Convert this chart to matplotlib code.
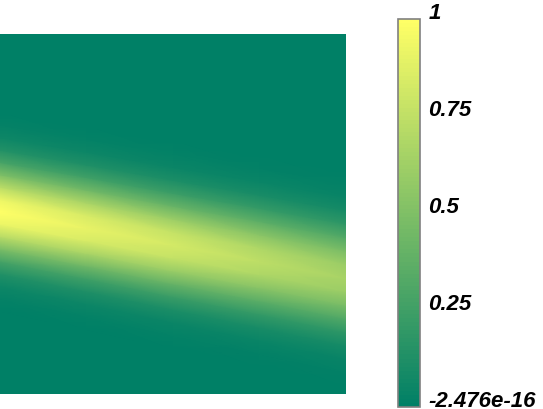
import matplotlib
matplotlib.use("Agg")
import matplotlib.pyplot as plt
import numpy as np
from matplotlib.colors import Normalize
from matplotlib.cm import ScalarMappable

# ridge of the plume (x and y as fraction of the domain, y up)
ridge_x = [0.0, 0.25, 0.5, 0.75, 1.0]
ridge_y = [0.506, 0.461, 0.414, 0.369, 0.322]
ridge_peak = [1.0, 0.91, 0.83, 0.74, 0.66]
ridge_width = [0.086, 0.088, 0.090, 0.092, 0.094]

# cross-section shape (offset in widths -> relative value)
profile_off = [-3.2, -2.8, -2.4, -2.0, -1.6, -1.2, -0.8, -0.4, 0.0,
               0.4, 0.8, 1.2, 1.6, 2.0, 2.4, 2.8, 3.2]
profile_val = [0.0, 0.02, 0.056, 0.135, 0.278, 0.487, 0.726, 0.923, 1.0,
               0.923, 0.726, 0.487, 0.278, 0.135, 0.056, 0.02, 0.0]

vmin = -2.476e-16
vmax = 1.0
cbar_ticks = [vmin, 0.25, 0.5, 0.75, 1.0]
cbar_labels = ["-2.476e-16", "0.25", "0.5", "0.75", "1"]

# mesh following the ridge, plus zero rows at the domain edges
nx = len(ridge_x)
rows_y = [np.zeros(nx)]
rows_c = [np.zeros(nx)]
for o, v in zip(profile_off, profile_val):
    rows_y.append(np.array(ridge_y) + o * np.array(ridge_width))
    rows_c.append(np.array(ridge_peak) * v)
rows_y.append(np.ones(nx))
rows_c.append(np.zeros(nx))
Y = np.vstack(rows_y)
C = np.vstack(rows_c)
X = np.tile(ridge_x, (Y.shape[0], 1))

fig = plt.figure(figsize=(5.43, 4.09), dpi=100)
ax = fig.add_axes([0.0, 15 / 409, 346 / 543, 360 / 409])
ax.pcolormesh(X, Y, C, shading="gouraud", cmap="summer", vmin=vmin, vmax=vmax)
ax.set_xlim(0, 1)
ax.set_ylim(0, 1)
ax.axis("off")

cax = fig.add_axes([398 / 543, 2 / 409, 22 / 543, 388 / 409])
sm = ScalarMappable(norm=Normalize(vmin, vmax), cmap=plt.get_cmap("summer", 96))
cb = fig.colorbar(sm, cax=cax)
cb.outline.set_edgecolor("#808080")
cb.outline.set_linewidth(1.2)
cb.set_ticks(cbar_ticks)
cb.set_ticklabels(cbar_labels)
cax.tick_params(length=0, pad=6)
for lab in cax.get_yticklabels():
    lab.set_fontfamily("Liberation Sans")
    lab.set_fontsize(16)
    lab.set_fontweight("bold")
    lab.set_fontstyle("italic")
    lab.set_verticalalignment("baseline")

fig.savefig("out.png", dpi=100)
